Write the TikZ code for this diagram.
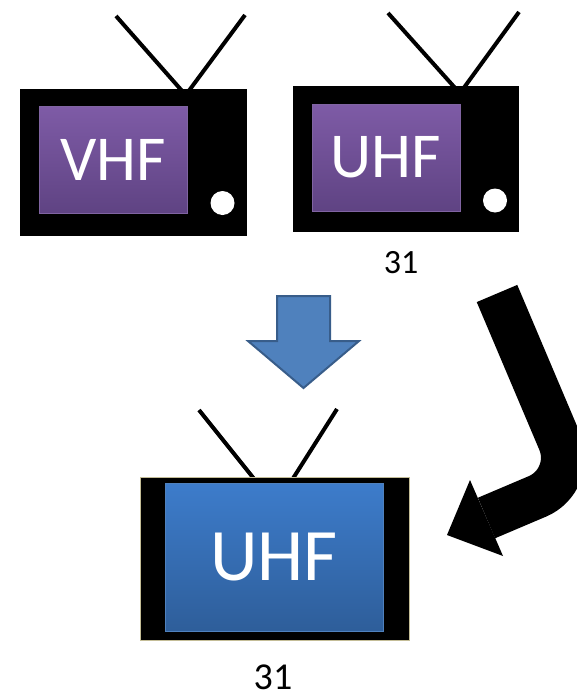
\documentclass[tikz,border=0pt]{standalone}
\usepackage{fontspec}
\setmainfont{Carlito}
\definecolor{PurpleTop}{HTML}{7E5BA6}
\definecolor{PurpleBottom}{HTML}{5F4383}
\definecolor{PurpleLine}{HTML}{8064A2}
\definecolor{BlueTop}{HTML}{3D7CCB}
\definecolor{BlueBottom}{HTML}{2E5E9A}
\definecolor{BlueLine}{HTML}{4F81BD}
\definecolor{MyBlue}{HTML}{4F81BD}
\definecolor{MyBlueLine}{HTML}{385D8A}
\definecolor{FrameLine}{HTML}{C4BD97}

\begin{document}
\begin{tikzpicture}[x=1pt,y=-1pt,
    antenna/.style={line width=4pt},
    tvbody/.style={fill=black,inner sep=0pt},
    oldscreen/.style={draw=PurpleLine,line width=1pt,top color=PurpleTop,bottom color=PurpleBottom,
        text=white,inner sep=0pt,minimum width=148pt,minimum height=107pt,font=\fontsize{64}{64}\selectfont},
    knob/.style={fill=white},
    chan/.style={inner sep=0pt,anchor=base,text depth=0pt}]

            \useasboundingbox (0,0) rectangle (577,699);

            % VHF set
            \draw[antenna] (183,92)--(116,16);
            \draw[antenna] (188,92)--(245,15);
            \node[tvbody,minimum width=227pt,minimum height=147pt] (setA) at (133.5,162.5){};
            \node[oldscreen] (vhf) at (113,160){VHF};
            \fill[knob] (222.5,203) circle (12);

            % UHF set
            \draw[antenna] (456,89)--(388,13);
            \draw[antenna] (463,89)--(519,12);
            \node[tvbody,minimum width=226pt,minimum height=146pt] (setB) at (406,159){};
            \node[oldscreen] (uhf) at (386,157.5){UHF};
            \fill[knob] (495,200.5) circle (12);
            \node[chan,font=\fontsize{34}{34}\selectfont] (chanB) at (401,273.5){31};

            \fill[MyBlue] (277,296)--(330,296)--(330,341)--(359,341)--(303.5,388)--(248,341)--(277,341)--cycle;
            \draw[MyBlueLine,line width=2pt] (277,296)--(330,296)--(330,341)--(359,341)--(303.5,388)--(248,341)--(277,341)--cycle;

            % new set
            \draw[antenna] (255,480)--(199,410);
            \draw[antenna] (292,480)--(337,409);
            \node[tvbody,draw=FrameLine,line width=1pt,minimum width=269pt,minimum height=163pt] (setC) at (274.5,558.5){};
            \node[draw=BlueLine,line width=1pt,top color=BlueTop,bottom color=BlueBottom,text=white,inner sep=0pt,
                minimum width=218pt,minimum height=148pt,font=\fontsize{74}{74}\selectfont] (newuhf) at (274,557){UHF};
            \node[chan,font=\fontsize{38}{38}\selectfont] (chanC) at (273,689){31};

            \coordinate (jstart) at (497,293.5);
            \coordinate (jturn) at (576,480);
            \coordinate (jbase) at (486.5,518);
            \coordinate (jtip) at (447,535);
            \coordinate (jbarbA) at (470,480);
            \coordinate (jbarbB) at (503,556);
            \draw[line width=44pt,rounded corners=42pt] (jstart)--(jturn)--(jbase);
            \fill (jbarbA)--(jtip)--(jbarbB)--cycle;
            \end{tikzpicture}
\end{document}
